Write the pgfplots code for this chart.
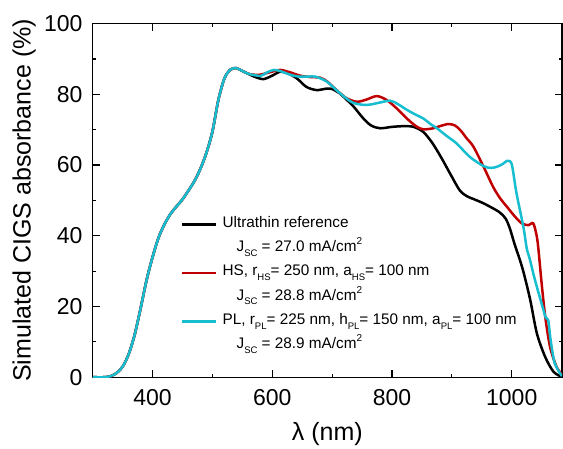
\documentclass[border=0pt]{standalone}
\usepackage{fontspec}
\setmainfont{Liberation Sans}
\usepackage{pgfplots}
\usepackage{pgfplotstable}
\pgfplotsset{compat=1.18}
\definecolor{myred}{RGB}{192,0,0}
\definecolor{mycyan}{RGB}{23,190,207}
\newcommand{\mysub}[1]{\raisebox{-0.32em}{\fontsize{9.5}{10}\selectfont #1}}
\newcommand{\mysup}[1]{\raisebox{0.45em}{\fontsize{10}{10}\selectfont #1}}

\pgfplotstableread{
x y
300 0
320 0
330 0.3
340 1.2
350 3
360 6.5
370 12
380 19.5
390 27.5
400 34
410 39.5
420 43.3
430 46.2
440 48.3
450 50.3
460 52.8
470 55.5
480 59
490 63.5
500 69.5
510 78.5
520 84.5
530 87
540 87.4
550 86.6
560 85.8
570 85.0
585 84.3
600 85.3
613 86.4
625 86.0
641 84.5
657 82.1
674 81.2
690 81.6
700 81.5
713 80.2
724 78.5
735 76.7
752 73.2
765 71.2
780 70.4
800 70.8
820 71.0
836 70.8
852 69.4
865 66.8
875 64.2
886 61
897 57.6
913 52.9
925 51.2
936 50.4
950 49.4
964 48.2
980 46.6
990 44.8
997 42
1005 37.5
1013 33.5
1020 29.5
1031 21.8
1042 12.4
1056 5.7
1070 1.5
1084 0.1
}\reftab

\pgfplotstableread{
x y
300 0
320 0
330 0.3
340 1.2
350 3
360 6.5
370 12
380 19.5
390 27.5
400 34
410 39.5
420 43.3
430 46.2
440 48.3
450 50.3
460 52.8
470 55.5
480 59
490 63.5
500 69.5
510 78.5
520 84.5
530 87
540 87.4
550 86.6
560 85.8
577 85.5
595 86.2
613 86.9
630 86.2
646 85.3
662 84.9
680 84.7
692 83.6
701.5 82.1
712 80.5
724 78.9
741 77.9
757 78.5
774.5 79.5
791 78.4
808 76
824.6 73.2
840 71
852 70.1
869 70.4
880 71
894 71.6
905 71.2
914 69.9
925 67.5
936 65.2
953 59.5
969 53.8
981 50.5
992 48.2
1005 45.5
1017 43.5
1028 43
1036 43.5
1042 39.7
1045 35.5
1050 26.5
1056 17.1
1064 8.6
1075 2.9
1085 0.6
}\hstab

\pgfplotstableread{
x y
300 0
320 0
330 0.3
340 1.2
350 3
360 6.5
370 12
380 19.5
390 27.5
400 34
410 39.5
420 43.3
430 46.2
440 48.3
450 50.3
460 52.8
470 55.5
480 59
490 63.5
500 69.5
510 78.5
520 84.5
530 87
540 87.4
550 86.6
560 85.8
580 85.2
590 86.1
602 86.9
613 86.6
624 85.9
635 85.3
646 85
660 85
672 85
691 83.6
713 80.3
735 77.6
758 77
775 77.5
797 78.2
810 77.2
825 75.6
840 74.2
852 73.2
865 71.5
875 70.4
890 68.4
908 66.1
930 62.3
953 59.7
965 59.2
975 59.5
985 60.3
992 61.2
997 61.1
1001 59.5
1008 52
1019.5 42.5
1025 36.5
1030 33.5
1039 27.4
1053 19
1057 16.8
1061 16.1
1065 10.5
1072 3.9
1084 0.3
}\pltab

\begin{document}
\begin{tikzpicture}
\begin{axis}[
  name=ax,
  width=469pt, height=353.4pt, scale only axis,
  xmin=300, xmax=1084, ymin=0, ymax=100,
  xtick={400,600,800,1000}, minor x tick num=1,
  ytick={0,20,...,100}, minor y tick num=1,
  tick align=inside,
  major tick length=7pt, minor tick length=3.5pt,
  axis line style={line width=1.3pt},
  every tick/.style={line width=1.1pt, black},
  tick label style={font=\fontsize{23}{27}\selectfont, inner sep=0pt},
  xticklabel style={anchor=base, yshift=-28pt},
  yticklabel style={anchor=east, xshift=-10pt},
  /pgf/number format/assume math mode=true,
  /pgf/number format/1000 sep={},
  label style={font=\fontsize{25}{30}\selectfont},
  xlabel={λ (nm)},
  ylabel={Simulated CIGS absorbance (\%)},
  xlabel style={at={(axis description cs:0.5,-0.1783)}, anchor=base, inner sep=0pt},
  ylabel style={at={(axis description cs:-0.1322,0.5)}, anchor=base, inner sep=0pt},
  legend cell align=left,
  legend image code/.code={\draw[#1] (0pt,0pt) -- (34pt,0pt);},
  legend style={at={(axis description cs:0.1883,0.4669)}, anchor=north west,
    draw=none, fill=none, inner sep=0pt, outer sep=0pt, row sep=0pt, column sep=5pt,
    font=\fontsize{15.3}{19}\selectfont,
    nodes={inner sep=0pt, text height=15pt, text depth=9.3pt}},
  every axis plot/.append style={line width=2.5pt, smooth, tension=0.5},
]
\addplot[black] table[x=x,y=y] {\reftab};
\addlegendentry{Ultrathin reference}
\addlegendimage{empty legend}
\addlegendentry{\hspace*{14pt}J\mysub{SC} = 27.0 mA/cm\mysup{2}}
\addplot[myred] table[x=x,y=y] {\hstab};
\addlegendentry{HS, r\mysub{HS}= 250 nm, a\mysub{HS}= 100 nm}
\addlegendimage{empty legend}
\addlegendentry{\hspace*{14pt}J\mysub{SC} = 28.8 mA/cm\mysup{2}}
\addplot[mycyan] table[x=x,y=y] {\pltab};
\addlegendentry{PL, r\mysub{PL}= 225 nm, h\mysub{PL}= 150 nm, a\mysub{PL}= 100 nm}
\addlegendimage{empty legend}
\addlegendentry{\hspace*{14pt}J\mysub{SC} = 28.9 mA/cm\mysup{2}}
\end{axis}
\pgfresetboundingbox
\path[use as bounding box] ([xshift=-92.7pt,yshift=-71pt]ax.south west) rectangle ([xshift=1pt,yshift=23.6pt]ax.north east);
\end{tikzpicture}
\end{document}
